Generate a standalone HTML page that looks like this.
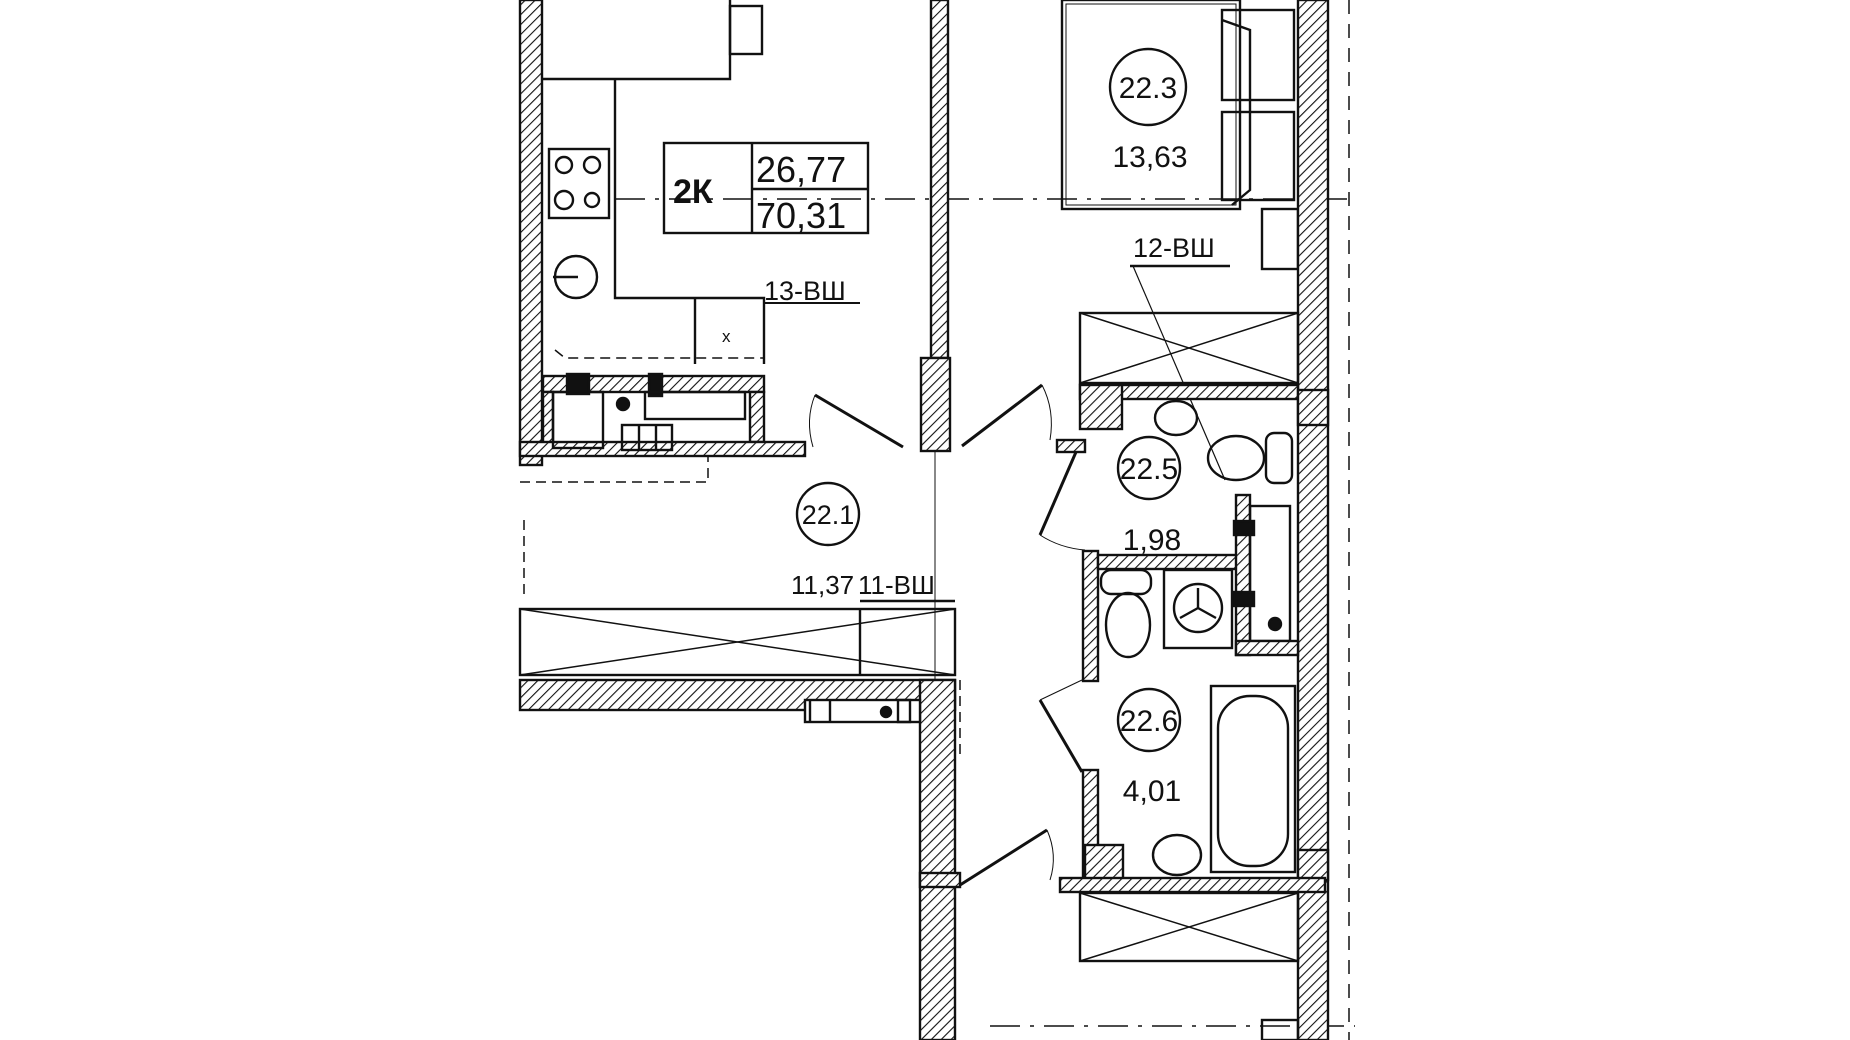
<!DOCTYPE html>
<html><head><meta charset="utf-8"><style>
html,body{margin:0;padding:0;background:#fff;width:1850px;height:1040px;overflow:hidden}
svg{display:block}
text{font-family:"Liberation Sans",sans-serif;fill:#111}
</style></head><body>
<svg width="1850" height="1040" viewBox="0 0 1850 1040" xmlns="http://www.w3.org/2000/svg">
<defs>
<pattern id="h" width="7" height="7" patternUnits="userSpaceOnUse" patternTransform="rotate(45)">
<rect width="7" height="7" fill="#fff"/><line x1="0" y1="0" x2="0" y2="7" stroke="#111" stroke-width="2.2"/>
</pattern>
</defs>
<g stroke="#111" stroke-width="2.4" fill="none">
<rect x="520" y="0" width="22" height="465" fill="url(#h)"/>
<polyline points="543,79 730,79 730,0"/>
<rect x="730" y="6" width="32" height="48"/>
<polyline points="615,79 615,298 764,298 764,364"/>
<line x1="695" y1="298" x2="695" y2="364"/>
<text x="722" y="342" font-size="17" stroke="none">x</text>
<rect x="549" y="149" width="60" height="69"/>
<circle cx="564" cy="165" r="8"/><circle cx="592" cy="165" r="8"/>
<circle cx="564" cy="200" r="9"/><circle cx="592" cy="200" r="7"/>
<circle cx="576" cy="277" r="21"/>
<line x1="553" y1="277" x2="578" y2="277"/>
<rect x="664" y="143" width="204" height="90"/>
<line x1="752" y1="143" x2="752" y2="233"/>
<line x1="752" y1="189" x2="868" y2="189"/>
<line x1="615" y1="199" x2="1355" y2="199" stroke-dasharray="30,10,4,10" stroke-width="1.5"/>
<line x1="990" y1="1026" x2="1355" y2="1026" stroke-dasharray="30,10,4,10" stroke-width="1.5"/>
<rect x="931" y="0" width="17" height="358" fill="url(#h)"/>
<rect x="921" y="358" width="29" height="93" fill="url(#h)"/>
<line x1="935" y1="451" x2="935" y2="1040" stroke-width="1"/>
<rect x="543" y="376" width="221" height="16" fill="url(#h)"/>
<rect x="543" y="392" width="10" height="60" fill="url(#h)"/>
<rect x="750" y="392" width="14" height="50" fill="url(#h)"/>
<rect x="520" y="442" width="285" height="14" fill="url(#h)"/>
<rect x="553" y="392" width="50" height="56"/>
<rect x="567" y="374" width="22" height="20" fill="#111"/>
<rect x="649" y="374" width="13" height="22" fill="#111"/>
<circle cx="623" cy="404" r="6" fill="#111"/>
<rect x="645" y="392" width="100" height="27"/>
<rect x="622" y="425" width="50" height="25"/>
<line x1="639" y1="425" x2="639" y2="450"/><line x1="656" y1="425" x2="656" y2="450"/>
<polyline points="520,482 708,482 708,456" stroke-dasharray="10,6" stroke-width="1.5"/>
<polyline points="555,350 565,358 764,358" stroke-dasharray="10,6" stroke-width="1.5"/>
<line x1="815" y1="395" x2="903" y2="447" stroke-width="3"/>
<line x1="1042" y1="385" x2="962" y2="446" stroke-width="3"/>
<path d="M815,395 Q805,420 813,447" stroke-width="1"/>
<path d="M1042,385 Q1055,410 1050,440" stroke-width="1"/>
<circle cx="828" cy="514" r="31"/>
<line x1="524" y1="520" x2="524" y2="600" stroke-dasharray="10,6" stroke-width="1.5"/>
<rect x="520" y="609" width="435" height="66"/>
<line x1="520" y1="609" x2="955" y2="675" stroke-width="1.5"/>
<line x1="520" y1="675" x2="955" y2="609" stroke-width="1.5"/>
<line x1="860" y1="609" x2="860" y2="675"/>
<line x1="860" y1="601" x2="955" y2="601"/>
<rect x="520" y="680" width="435" height="30" fill="url(#h)"/>
<rect x="920" y="680" width="35" height="360" fill="url(#h)"/>
<rect x="805" y="700" width="115" height="22" fill="#fff"/>
<line x1="810" y1="700" x2="810" y2="722"/><line x1="830" y1="700" x2="830" y2="722"/>
<rect x="898" y="700" width="12" height="22"/>
<circle cx="886" cy="712" r="5" fill="#111"/>
<line x1="960" y1="680" x2="960" y2="760" stroke-dasharray="10,6" stroke-width="1.5"/>
<line x1="960" y1="885" x2="1047" y2="830" stroke-width="3"/>
<path d="M1047,830 Q1058,855 1050,880" stroke-width="1"/>
<rect x="920" y="873" width="40" height="14" fill="url(#h)"/>
<rect x="1062" y="0" width="178" height="209"/>
<rect x="1066" y="4" width="170" height="201" stroke-width="1"/>
<rect x="1222" y="10" width="72" height="90"/>
<rect x="1222" y="112" width="72" height="88"/>
<polyline points="1222,20 1250,30 1250,190 1232,205"/>
<circle cx="1148" cy="87" r="38"/>
<rect x="1262" y="209" width="36" height="60"/>
<rect x="1298" y="0" width="30" height="1040" fill="url(#h)"/>
<line x1="1349" y1="0" x2="1349" y2="1040" stroke-dasharray="14,10" stroke-width="1.5"/>
<polyline points="1130,266 1230,266"/>
<line x1="1133" y1="266" x2="1225" y2="480" stroke-width="1.2"/>
<rect x="1080" y="313" width="218" height="70"/>
<line x1="1080" y1="313" x2="1298" y2="383" stroke-width="1.5"/>
<line x1="1080" y1="383" x2="1298" y2="313" stroke-width="1.5"/>
<rect x="1080" y="385" width="218" height="14" fill="url(#h)"/>
<rect x="1080" y="385" width="42" height="44" fill="url(#h)"/>
<rect x="1298" y="390" width="30" height="35" fill="url(#h)"/>
<rect x="1057" y="440" width="28" height="12" fill="url(#h)"/>
<line x1="1076" y1="452" x2="1040" y2="535" stroke-width="3"/>
<path d="M1040,535 Q1060,548 1085,550" stroke-width="1"/>
<ellipse cx="1176" cy="418" rx="21" ry="17"/>
<ellipse cx="1236" cy="458" rx="28" ry="22"/>
<rect x="1266" y="433" width="26" height="50" rx="8"/>
<circle cx="1149" cy="468" r="31"/>
<rect x="1083" y="551" width="15" height="130" fill="url(#h)"/>
<rect x="1098" y="555" width="148" height="14" fill="url(#h)"/>
<rect x="1236" y="495" width="14" height="160" fill="url(#h)"/>
<rect x="1250" y="506" width="40" height="135"/>
<rect x="1234" y="521" width="20" height="14" fill="#111"/>
<rect x="1234" y="592" width="20" height="14" fill="#111"/>
<circle cx="1275" cy="624" r="6" fill="#111"/>
<rect x="1236" y="641" width="62" height="14" fill="url(#h)"/>
<rect x="1101" y="570" width="50" height="24" rx="10"/>
<ellipse cx="1128" cy="625" rx="22" ry="32"/>
<rect x="1164" y="570" width="68" height="78"/>
<circle cx="1198" cy="608" r="24"/>
<line x1="1198" y1="608" x2="1198" y2="588"/><line x1="1198" y1="608" x2="1180" y2="618"/><line x1="1198" y1="608" x2="1216" y2="618"/>
<line x1="1082" y1="680" x2="1040" y2="700" stroke-width="1"/>
<line x1="1040" y1="700" x2="1082" y2="772" stroke-width="3"/>
<rect x="1083" y="770" width="15" height="110" fill="url(#h)"/>
<circle cx="1149" cy="720" r="31"/>
<rect x="1211" y="686" width="84" height="186"/>
<rect x="1218" y="696" width="70" height="170" rx="32"/>
<ellipse cx="1177" cy="855" rx="24" ry="20"/>
<rect x="1085" y="845" width="38" height="40" fill="url(#h)"/>
<rect x="1298" y="850" width="30" height="30" fill="url(#h)"/>
<rect x="1060" y="878" width="265" height="14" fill="url(#h)"/>
<rect x="1080" y="893" width="218" height="68"/>
<line x1="1080" y1="893" x2="1298" y2="961" stroke-width="1.5"/>
<line x1="1080" y1="961" x2="1298" y2="893" stroke-width="1.5"/>
<rect x="1262" y="1020" width="36" height="20"/>
</g>
<g stroke="none">
<text x="673" y="203" font-size="34" font-weight="bold">2К</text>
<text x="756" y="182" font-size="36">26,77</text>
<text x="756" y="228" font-size="36">70,31</text>
<text x="764" y="300" font-size="27">13-ВШ</text>
<line x1="764" y1="303" x2="860" y2="303" stroke="#111" stroke-width="2"/>
<text x="1133" y="257" font-size="27">12-ВШ</text>
<text x="828" y="524" font-size="27" text-anchor="middle">22.1</text>
<text x="791" y="594" font-size="26">11,37</text>
<text x="858" y="594" font-size="26">11-ВШ</text>
<text x="1148" y="98" font-size="30" text-anchor="middle">22.3</text>
<text x="1150" y="167" font-size="30" text-anchor="middle">13,63</text>
<text x="1149" y="479" font-size="30" text-anchor="middle">22.5</text>
<text x="1152" y="550" font-size="30" text-anchor="middle">1,98</text>
<text x="1149" y="731" font-size="30" text-anchor="middle">22.6</text>
<text x="1152" y="801" font-size="30" text-anchor="middle">4,01</text>
</g>
</svg>
</body></html>
